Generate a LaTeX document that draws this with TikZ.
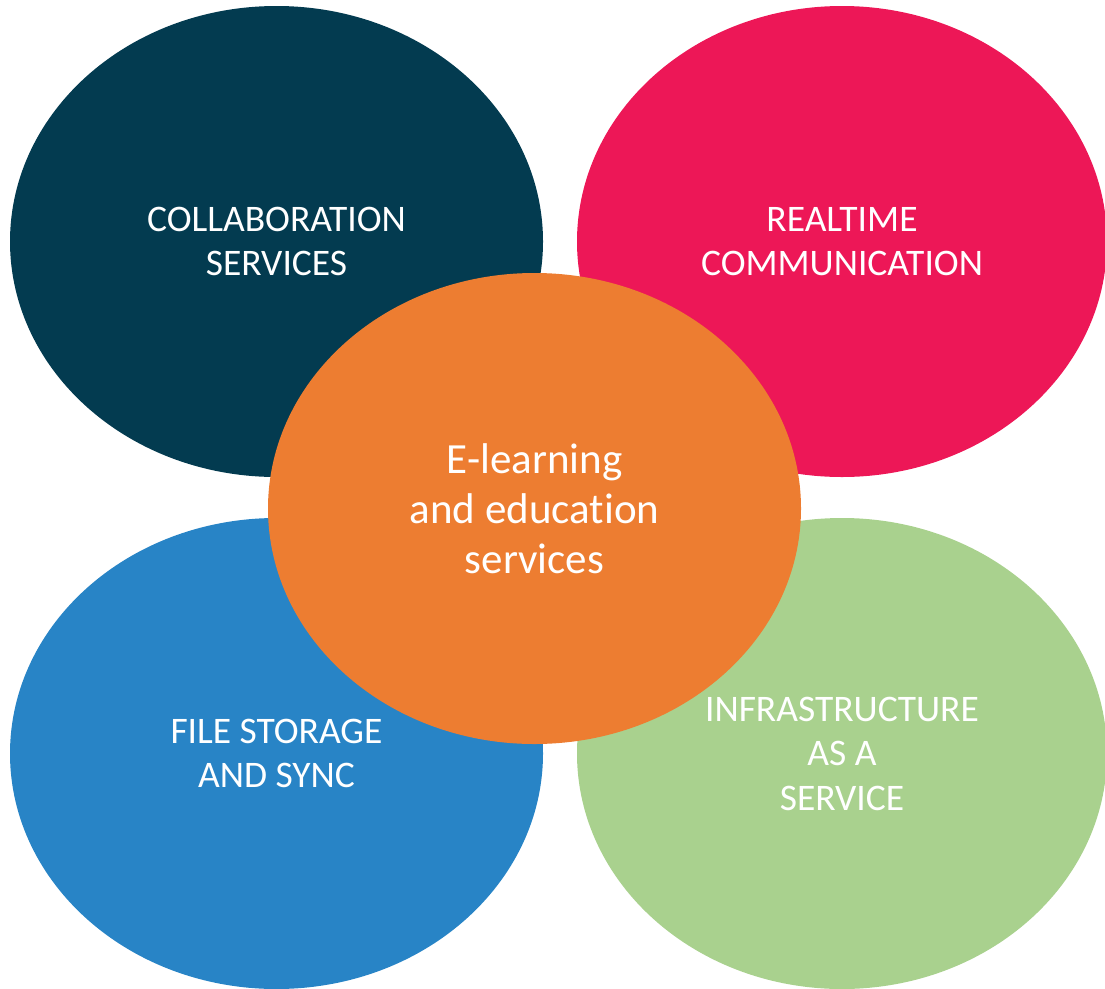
\documentclass[tikz,border=0pt]{standalone}
\usepackage{fontspec}
\setmainfont{Carlito}[Ligatures={NoCommon}]
\usepackage{tikz}
\usetikzlibrary{shapes.geometric}
\definecolor{collabteal}{HTML}{033B50}
\definecolor{realtimepink}{HTML}{ED1757}
\definecolor{storageblue}{HTML}{2884C6}
\definecolor{infragreen}{HTML}{A9D18E}
\definecolor{learnorange}{HTML}{ED7D31}
\tikzset{
  blob/.style={ellipse, inner sep=0pt, minimum width=533pt, minimum height=471pt,
    text=white, align=center},
  capslabel/.style={font=\fontsize{37.5}{44.5}\selectfont},
}

\begin{document}
\begin{tikzpicture}[x=1pt,y=-1pt]
        \useasboundingbox (0,0) rectangle (1105,988);
        \node [blob, capslabel, fill=collabteal] (collab) at (276.5,241.5) {COLLABORATION\\SERVICES};
        \node [blob, capslabel, fill=realtimepink, minimum width=530pt] (realtime) at (842,241.5) {REALTIME\\COMMUNICATION};
        \node [blob, capslabel, fill=storageblue] (storage) at (276.5,753.5) {FILE STORAGE\\AND SYNC};
        \node [blob, capslabel, fill=infragreen, minimum width=530pt] (infra) at (842,753.5) {INFRASTRUCTURE\\AS A\\SERVICE};
        \node [blob, fill=learnorange, font=\fontsize{43}{50}\selectfont] (learn) at (534.5,508.5) {E-learning\\and education\\services};
    \end{tikzpicture}
\end{document}
